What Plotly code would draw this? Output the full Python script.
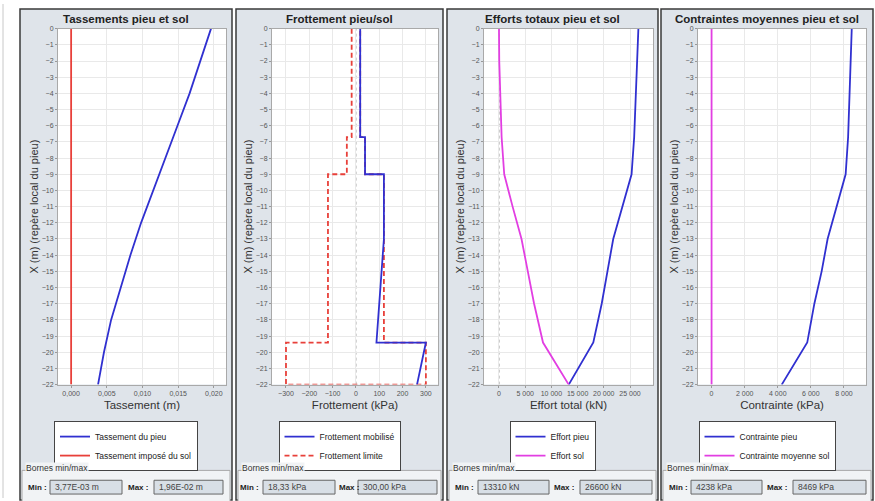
import plotly.graph_objects as go

# ---------------- data ----------------
depth_tass = [0, -2, -4, -6, -8, -10, -12, -14, -16, -18, -20, -22]
tass_pieu = [0.0196, 0.0181, 0.0166, 0.0149, 0.0132, 0.0115, 0.0098, 0.0083, 0.0069, 0.0056, 0.0046, 0.00377]
depth_tass_sol = [0, -22]
tass_sol = [0.0, 0.0]

depth_frot_mob = [0, -6.7, -6.7, -9, -9, -13, -19.4, -19.4, -22]
frot_mob = [18.33, 18.33, 39, 39, 120, 120, 88, 300, 262]
depth_frot_lim = [0, -6.7, -6.7, -9, -9, -19.4, -19.4, -22, -22, -19.4, -19.4, -9, -9, -6.7, -6.7, 0]
frot_lim = [-18.33, -18.33, -39, -39, -120, -120, -300, -300, 300, 300, 120, 120, 39, 39, 18.33, 18.33]

depth_effort = [0, -2, -6.7, -9, -11, -13, -15, -17, -19.4, -22]
effort_pieu = [26600, 26400, 25800, 25300, 23500, 21800, 20700, 19600, 18000, 13310]
effort_sol = [0, 50, 500, 1000, 2600, 4300, 5500, 6700, 8400, 13310]

depth_contr = [0, -6.7, -9, -11, -13, -15, -17, -19.4, -22]
contr_pieu = [8469, 8250, 8100, 7560, 7010, 6650, 6210, 5780, 4238]
depth_contr_sol = [0, -22]
contr_sol = [0, 0]

titles = ["Tassements pieu et sol", "Frottement pieu/sol", "Efforts totaux pieu et sol",
          "Contraintes moyennes pieu et sol"]
x_titles = ["Tassement (m)", "Frottement (kPa)", "Effort total (kN)", "Contrainte (kPa)"]
y_title = "X (m) (repère local du pieu)"
names_a = ["Tassement du pieu", "Frottement mobilisé", "Effort pieu", "Contrainte pieu"]
names_b = ["Tassement imposé du sol", "Frottement limite", "Effort sol", "Contrainte moyenne sol"]
min_texts = ["3,77E-03 m", "18,33 kPa", "13310 kN", "4238 kPa"]
max_texts = ["1,96E-02 m", "300,00 kPa", "26600 kN", "8469 kPa"]
x_ticks = [[0, 0.005, 0.010, 0.015, 0.020],
           [-300, -200, -100, 0, 100, 200, 300],
           [0, 5000, 10000, 15000, 20000, 25000],
           [0, 2000, 4000, 6000, 8000]]
y_ticks = list(range(0, -23, -1))

# ---------------- styling / geometry ----------------
W, H = 875, 501
def px(x): return x / W
def py(y): return 1 - y / H

BLUE = "#3030d0"
RED = "#e8403a"
PINK = "#e23ee2"
PANEL_BG = "#dfe4ea"
GROUP_BG = "#f1f3f5"
FONT = "Liberation Sans"

panels = [(20, 232), (236, 443), (447, 658), (661, 873)]
plots = [(58, 226), (272, 438), (484, 653), (698, 866)]
PT, PB = 25, 386
x_ranges = [[-0.00184, 0.0217], [-360, 352], [-2860, 29390], [-820, 9330]]
tick_fmt = [".3f", ",d", ",d", ",d"]
label_x = [(26, 50, 126, 154), (238, 263, 337, 358), (453, 478, 552, 580), (667, 691, 765, 793)]
box_x1 = [(122, 223), (335, 437), (549, 652), (762, 866)]

fig = go.Figure()

traces = [
    (tass_pieu, depth_tass, BLUE, "solid", tass_sol, depth_tass_sol, RED, "solid"),
    (frot_mob, depth_frot_mob, BLUE, "solid", frot_lim, depth_frot_lim, RED, "5px,3px"),
    (effort_pieu, depth_effort, BLUE, "solid", effort_sol, depth_effort, PINK, "solid"),
    (contr_pieu, depth_contr, BLUE, "solid", contr_sol, depth_contr_sol, PINK, "solid"),
]

layout = {}
shapes = []
annotations = []

shapes.append(dict(type="line", xref="paper", yref="paper", x0=px(3), x1=px(3), y0=0, y1=1,
                   line=dict(color="#c8c8c8", width=1), layer="below"))

for i in range(4):
    sfx = "" if i == 0 else str(i + 1)
    xa, ya = "x" + sfx, "y" + sfx
    leg = "legend" + sfx
    xv_a, yv_a, ca, da, xv_b, yv_b, cb, db = traces[i]
    tr_a = go.Scatter(x=xv_a, y=yv_a, mode="lines", name=names_a[i],
                      line=dict(color=ca, width=1.8, dash=da),
                      xaxis=xa, yaxis=ya, legend=leg, legendrank=1)
    tr_b = go.Scatter(x=xv_b, y=yv_b, mode="lines", name=names_b[i],
                      line=dict(color=cb, width=1.8, dash=db),
                      xaxis=xa, yaxis=ya, legend=leg, legendrank=2)
    if i == 1:
        fig.add_trace(tr_b)
        fig.add_trace(tr_a)
    else:
        fig.add_trace(tr_a)
        fig.add_trace(tr_b)

    x0, x1 = plots[i]
    p0, p1 = panels[i]
    layout["xaxis" + sfx] = dict(
        domain=[px(x0), px(x1)], anchor=ya, range=x_ranges[i], tickvals=x_ticks[i],
        tickformat=tick_fmt[i], separatethousands=True,
        showgrid=True, gridcolor="#e9e9e9", gridwidth=1, zeroline=False,
        showline=True, mirror=True, linecolor="#a9a9a9", linewidth=1,
        ticks="outside", ticklen=2, tickcolor="#999",
        tickfont=dict(family=FONT, size=7, color="#555"),
        title=dict(text=x_titles[i], font=dict(family=FONT, size=11.5, color="#333"), standoff=4),
        fixedrange=True)
    layout["yaxis" + sfx] = dict(
        domain=[py(PB), py(PT)], anchor=xa, range=[-22, 0], tickvals=y_ticks,
        showgrid=True, gridcolor="#e9e9e9", gridwidth=1, zeroline=False,
        showline=True, mirror=True, linecolor="#a9a9a9", linewidth=1,
        ticks="outside", ticklen=2, tickcolor="#999",
        tickfont=dict(family=FONT, size=7, color="#555"),
        title=dict(text=y_title, font=dict(family=FONT, size=11, color="#333"), standoff=0),
        fixedrange=True)
    layout[leg] = dict(x=px((p0 + p1) / 2), y=py(423), xanchor="center", yanchor="top",
                       bgcolor="white", bordercolor="#444", borderwidth=1,
                       font=dict(family=FONT, size=8.5, color="#222"),
                       itemwidth=30, tracegroupgap=2)

    shapes.append(dict(type="rect", xref="paper", yref="paper", x0=px(p0), x1=px(p1),
                       y0=py(503), y1=py(5), fillcolor=PANEL_BG,
                       line=dict(color="#3a3a3a", width=1.5), layer="below"))
    shapes.append(dict(type="rect", xref="paper", yref="paper", x0=px(x0), x1=px(x1),
                       y0=py(PB), y1=py(PT), fillcolor="white",
                       line=dict(width=0), layer="below"))
    shapes.append(dict(type="rect", xref="paper", yref="paper", x0=px(p0 + 2), x1=px(p1 - 2),
                       y0=py(505), y1=py(473), fillcolor=GROUP_BG,
                       line=dict(color="#a8a8a8", width=1), layer="below"))
    lx_min, bx_min, lx_max, bx_max = label_x[i]
    bx_min1, bx_max1 = box_x1[i]
    for (b0, b1, txt) in [(bx_min, bx_min1, min_texts[i]), (bx_max, bx_max1, max_texts[i])]:
        shapes.append(dict(type="rect", xref="paper", yref="paper", x0=px(b0), x1=px(b1),
                           y0=py(497), y1=py(483), fillcolor="#d8dfe6",
                           line=dict(color="#666", width=1), layer="below"))
        annotations.append(dict(x=px(b0 + 3), y=py(490), xref="paper", yref="paper",
                                text=txt, showarrow=False, xanchor="left", yanchor="middle",
                                font=dict(family=FONT, size=8.5, color="#444")))
    annotations.append(dict(x=px(lx_min), y=py(490), xref="paper", yref="paper",
                            text="<b>Min :</b>", showarrow=False, xanchor="left", yanchor="middle",
                            font=dict(family=FONT, size=8, color="#222")))
    annotations.append(dict(x=px(lx_max), y=py(490), xref="paper", yref="paper",
                            text="<b>Max :</b>", showarrow=False, xanchor="left", yanchor="middle",
                            font=dict(family=FONT, size=8, color="#222")))
    annotations.append(dict(x=px(p0 + 5), y=py(471), xref="paper", yref="paper",
                            text="Bornes min/max", showarrow=False, xanchor="left", yanchor="middle",
                            bgcolor=GROUP_BG, borderpad=0,
                            font=dict(family=FONT, size=8.5, color="#333")))
    annotations.append(dict(x=px((p0 + p1) / 2), y=py(15), xref="paper", yref="paper",
                            text="<b>" + titles[i] + "</b>", showarrow=False,
                            xanchor="center", yanchor="middle",
                            font=dict(family=FONT, size=11.5, color="#222")))
    if i in (1, 2):
        shapes.append(dict(type="line", xref=xa, yref=ya, x0=0, x1=0, y0=-22, y1=0,
                           line=dict(color="#999", width=1, dash="dot"), layer="below"))

fig.update_layout(
    width=W, height=H, autosize=False,
    margin=dict(l=0, r=0, t=0, b=0),
    paper_bgcolor="white", plot_bgcolor="rgba(0,0,0,0)",
    separators=", ",
    showlegend=True,
    shapes=shapes, annotations=annotations,
    **layout,
)

fig.write_html("out.html", config={"displayModeBar": False},
               post_script="document.body.style.margin='0';document.body.style.overflow='hidden';")
